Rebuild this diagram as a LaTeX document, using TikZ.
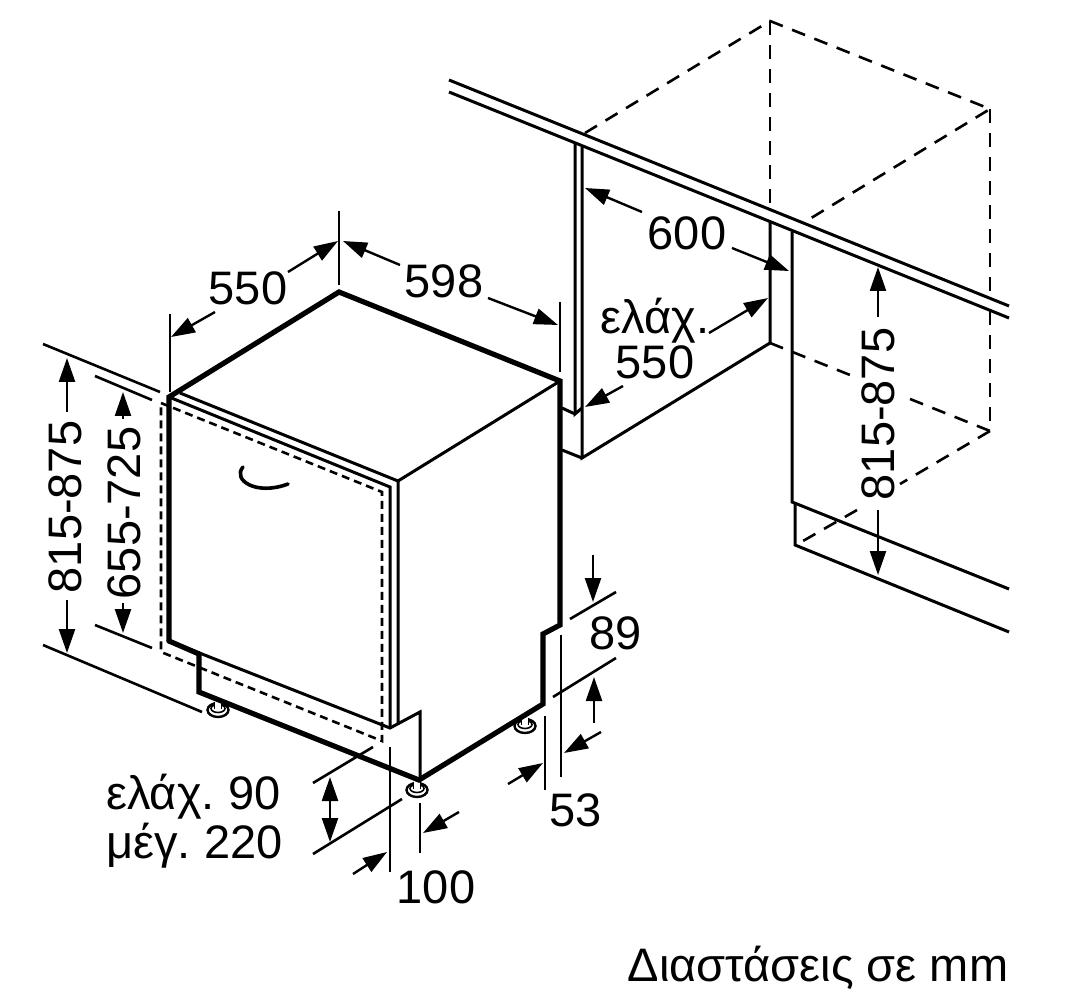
\documentclass[tikz,border=0pt]{standalone}
\usepackage{fontspec}
\setmainfont{Liberation Sans}
\usetikzlibrary{arrows.meta}
\tikzset{
  thickline/.style={line width=5.2pt,line join=miter,line cap=round},
  body/.style={line width=3pt,line join=miter},
  thin line/.style={line width=2.6pt},
  dashline/.style={line width=2.6pt,dash pattern=on 14pt off 10pt},
  dashfine/.style={line width=2.6pt,dash pattern=on 8pt off 5pt},
  dim/.style={line width=2.4pt,-{Triangle[length=24pt,width=16pt]}},
  dimtwo/.style={line width=2.4pt,{Triangle[length=24pt,width=16pt]}-{Triangle[length=24pt,width=16pt]}},
  lab/.style={font=\fontsize{47}{51}\selectfont,inner sep=0pt,align=center},
}
\begin{document}
\begin{tikzpicture}[x=1pt,y=-1pt]
\useasboundingbox (0,0) rectangle (1072,1000);
% cabinet
\draw[dashline] (585,133) -- (770,21) -- (990,109) -- (803,223);
\draw[dashline] (770,21) -- (770,208);
\draw[dashline] (990,109) -- (990,298);
\draw[dashline] (990,311) -- (990,431);
\draw[dashline] (770,343) -- (850,375);
\draw[dashline] (910,399) -- (990,431);
\draw[dashline] (990,431) -- (900,484);
\draw[dashline] (857,510) -- (803,541);
\draw[body] (449,80) -- (1009,306);
\draw[body] (449,92) -- (1009,318);
\draw[body] (770,221) -- (770,343) -- (582,458) -- (582,147);
\draw[body] (575,143) -- (575,414) -- (582,408);
\draw[body] (562,408) -- (575,414);
\draw[body] (562,450) -- (582,458);
\draw[body] (792,232) -- (792,502) -- (1009,589);
\draw[body] (795,503) -- (795,545) -- (1009,632);
% dishwasher door
\draw[dashfine] (161,403) -- (382,492) -- (382,741) -- (161,652) -- cycle;
\draw[body] (180,393) -- (398,481) -- (398,723);
\draw[body] (169,397) -- (390,487) -- (390,728);
\draw[body] (398,481) -- (560,381);
\draw[body] (169,641) -- (390,728) -- (420,712) -- (420,780);
\draw[line width=3.6pt,line cap=round] (243,467) .. controls (232,480) and (256,496) .. (288,484);
% feet
\foreach \fx/\fy in {218/710,417/790,525/726}{
  \draw[line width=2.4pt,fill=white] (\fx,\fy) ellipse [x radius=10.5pt,y radius=7pt];
  \draw[line width=1.6pt,fill=white] (\fx,\fy-1.5) ellipse [x radius=7pt,y radius=4pt];
  \fill[white] (\fx-3,\fy-8) rectangle (\fx+3,\fy-1);
  \draw[line width=1.4pt] (\fx-3.5,\fy-8) -- (\fx-3.5,\fy-1) (\fx+3.5,\fy-8) -- (\fx+3.5,\fy-1);
}
% dishwasher outline
\draw[thickline] (169,641) -- (169,397) -- (339,292) -- (560,381) -- (560,625) -- (543,634) -- (543,704) -- (419,780) -- (199,692) -- (199,654);
\draw[thickline] (169,641) -- (199,654);
% extension lines
\draw[thin line] (170,314) -- (170,392);
\draw[thin line] (339,211) -- (339,285);
\draw[thin line] (560,302) -- (560,372);
\draw[thin line] (43,344) -- (160,392);
\draw[thin line] (43,645) -- (202,712);
\draw[thin line] (95,376) -- (152,400);
\draw[thin line] (95,625) -- (152,648);
\draw[thin line] (570,619) -- (616,592);
\draw[thin line] (553,697) -- (616,658);
\draw[thin line] (561,635) -- (561,777);
\draw[thin line] (545,716) -- (545,790);
\draw[thin line] (390,747) -- (390,872);
\draw[thin line] (420,803) -- (420,853);
\draw[thin line] (313,783) -- (373,747);
\draw[thin line] (313,854) -- (402,799);
% arrows
\draw[dim] (67,412) -- (67,358);
\draw[dim] (67,600) -- (67,653);
\draw[dim] (123,419) -- (123,392);
\draw[dim] (123,603) -- (123,633);
\draw[dim] (215,312) -- (171,337);
\draw[dim] (288,272) -- (338,241);
\draw[dim] (400,265) -- (343,241);
\draw[dim] (488,298) -- (558,325);
\draw[dim] (593,555) -- (593,602);
\draw[dim] (594,723) -- (594,677);
\draw[dim] (508,784) -- (543,763);
\draw[dim] (601,732) -- (564,753);
\draw[dim] (353,874) -- (387,852);
\draw[dim] (459,812) -- (423,833);
\draw[dimtwo] (330,777) -- (330,842);
\draw[dim] (642,212) -- (585,188);
\draw[dim] (732,248) -- (789,271);
\draw[dim] (709,333) -- (768,298);
\draw[dim] (623,386) -- (585,407);
\draw[dim] (878,317) -- (878,267);
\draw[dim] (878,510) -- (878,575);
% labels
\node[lab,rotate=90] (h1) at (65,507) {815-875};
\node[lab,rotate=90] (h2) at (124.5,513) {655-725};
\node[lab,rotate=90] (h3) at (878,414) {815-875};
\node[lab] (w1) at (248,288) {550};
\node[lab] (w2) at (444,281) {598};
\node[lab] (w3) at (687,233) {600};
\node[lab] (m1) at (655,339) {ελάχ.\\[-6pt]550};
\node[lab] (n1) at (616,633) {89};
\node[lab] (n2) at (576,810) {53};
\node[lab] (n3) at (436,887) {100};
\node[lab,align=left,anchor=west] (m2) at (106,821) {ελάχ.\hspace{-4pt} 90\\[-2pt]μέγ.\hspace{-4pt} 220};
\node[lab] (cap) at (818,968) {Διαστάσεις σε mm};
\end{tikzpicture}
\end{document}
